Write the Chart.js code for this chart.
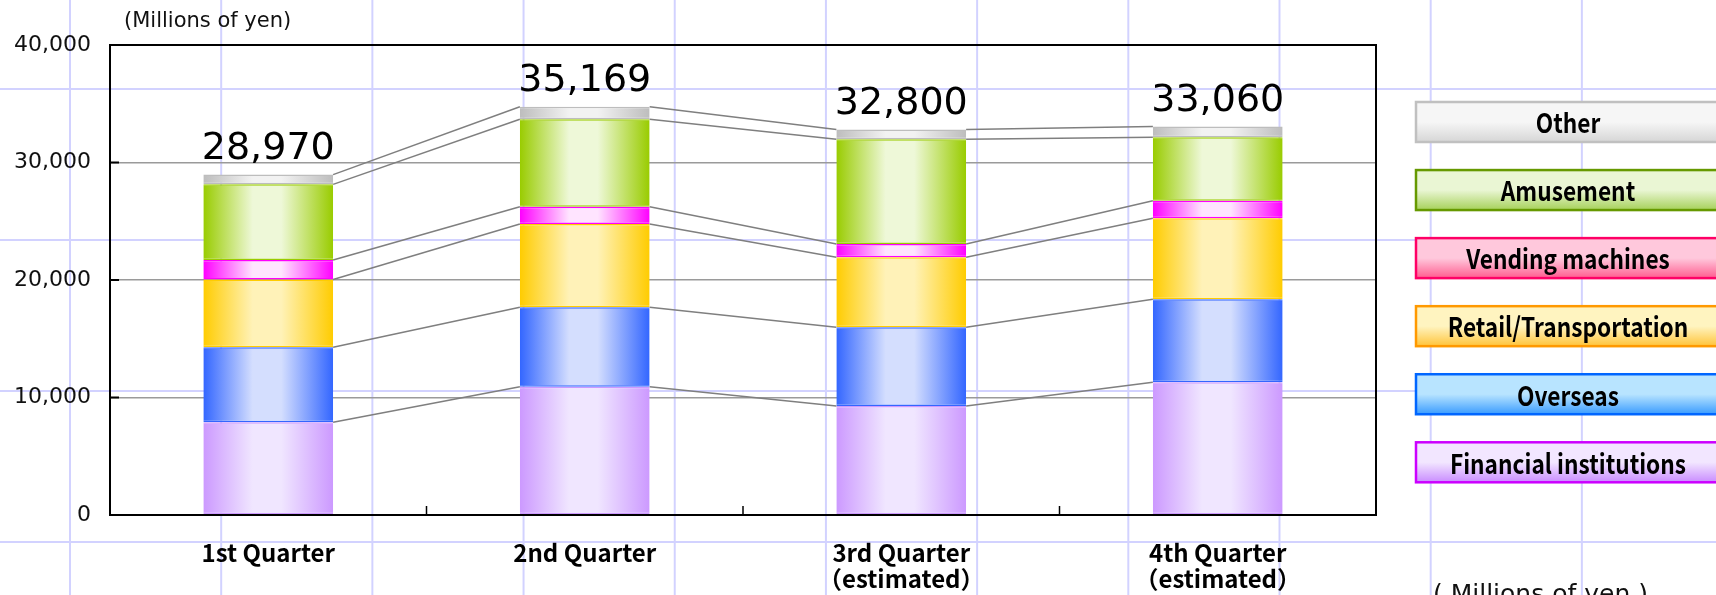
<!DOCTYPE html>
<html>
<head>
<meta charset="utf-8">
<script src="https://cdn.jsdelivr.net/npm/chart.js@4.4.1/dist/chart.umd.min.js"></script>
<style>
html,body{margin:0;padding:0;}
body{
  width:1716px;height:595px;overflow:hidden;background-color:#ffffff;
  background-image:
    linear-gradient(to right, #d2d2ff 0, #d2d2ff 2px, transparent 2px),
    linear-gradient(to bottom, #d2d2ff 0, #d2d2ff 2px, transparent 2px);
  background-size:151.2px 151px;
  background-position:69px 88px;
}
#wrap{position:relative;width:1716px;height:595px;}
canvas{display:block;}
</style>
</head>
<body>
<div id="wrap"><canvas id="c" width="1716" height="595"></canvas></div>
<script>
// ---- data (millions of yen) ----
const categories = [['1st Quarter'], ['2nd Quarter'], ['3rd Quarter', '（estimated）'], ['4th Quarter', '（estimated）']];
const seriesNames = ['Financial institutions', 'Overseas', 'Retail/Transportation', 'Vending machines', 'Amusement', 'Other'];
const financial = [7890, 10920, 9280, 11290];
const overseas  = [6380, 6760, 6690, 7070];
const retail    = [5780, 7090, 5960, 6890];
const vending   = [1650, 1470, 1130, 1500];
const amusement = [6440, 7440, 8910, 5390];
const other     = [830, 1070, 830, 920];
const totals    = [28970, 35169, 32800, 33060];
const yTicks    = [0, 10000, 20000, 30000, 40000];
const unitLabel = '(Millions of yen)';

// ---- styles ----
const BAR_PCT = 0.41;
const barEdge  = ['#cc99ff', '#3366ff', '#ffcc00', '#ff00ff', '#99cc00', '#bdbdbd'];
const barLight = ['#f0e6ff', '#d4defe', '#fff2b8', '#ffe4ff', '#eef8d8', '#f2f2f2'];
const legBorder = ['#cc00ff', '#0066ff', '#ff9900', '#ff0066', '#669900', '#c0c0c0'];
const legTop    = ['#f2e6ff', '#b8e4ff', '#fff4c0', '#ffc8dc', '#eaf6d4', '#f6f6f6'];
const legBottom = ['#c98cff', '#3a9cff', '#ffc43a', '#ff5c8f', '#a6d15a', '#d6d6d6'];

function grad(edge, light) {
  return (c) => {
    const chart = c.chart, ca = chart.chartArea;
    if (!ca || c.type !== 'data' || !chart.scales.x) return edge;
    const cx = chart.scales.x.getPixelForValue(c.dataIndex);
    const w = (ca.right - ca.left) / categories.length * BAR_PCT;
    const g = chart.ctx.createLinearGradient(cx - w / 2, 0, cx + w / 2, 0);
    g.addColorStop(0, edge);
    g.addColorStop(0.38, light);
    g.addColorStop(0.6, light);
    g.addColorStop(1, edge);
    return g;
  };
}

const values = [financial, overseas, retail, vending, amusement, other];
const datasets = values.map((v, i) => ({
  label: seriesNames[i],
  data: v,
  backgroundColor: grad(barEdge[i], barLight[i]),
  borderColor: barEdge[i],
  borderWidth: {top: 1.5, bottom: 1.5, left: 0, right: 0},
  borderSkipped: false,
  categoryPercentage: 1,
  barPercentage: BAR_PCT,
  stack: 's'
}));

const NUM_FONT = '"DejaVu Sans", sans-serif';
const LAB_FONT = '"Noto Sans CJK JP", sans-serif';

const extras = {
  id: 'extras',
  afterDatasetsDraw(chart) {
    const ctx = chart.ctx, ca = chart.chartArea;
    const xs = chart.scales.x, ys = chart.scales.y;
    ctx.save();
    // series lines
    ctx.strokeStyle = '#7f7f7f';
    ctx.lineWidth = 1.5;
    chart.data.datasets.forEach((ds, di) => {
      const meta = chart.getDatasetMeta(di);
      for (let i = 0; i < meta.data.length - 1; i++) {
        const a = meta.data[i], b = meta.data[i + 1];
        ctx.beginPath();
        ctx.moveTo(a.x + a.width / 2, a.y);
        ctx.lineTo(b.x - b.width / 2, b.y);
        ctx.stroke();
      }
    });
    // frame
    ctx.strokeStyle = '#000';
    ctx.lineWidth = 2;
    ctx.strokeRect(ca.left, ca.top, ca.right - ca.left, ca.bottom - ca.top);
    // inner y ticks
    ys.ticks.forEach(t => {
      const py = ys.getPixelForValue(t.value);
      ctx.beginPath(); ctx.moveTo(ca.left, py); ctx.lineTo(ca.left + 9, py); ctx.stroke();
    });
    // inner x ticks at category boundaries
    ctx.lineWidth = 1.5;
    for (let i = 1; i < categories.length; i++) {
      const px = (xs.getPixelForValue(i - 1) + xs.getPixelForValue(i)) / 2;
      ctx.beginPath(); ctx.moveTo(px, ca.bottom); ctx.lineTo(px, ca.bottom - 9); ctx.stroke();
    }
    // totals
    const topMeta = chart.getDatasetMeta(chart.data.datasets.length - 1);
    ctx.fillStyle = '#000';
    ctx.font = '38px ' + NUM_FONT;
    ctx.textAlign = 'center';
    ctx.textBaseline = 'alphabetic';
    topMeta.data.forEach((el, i) => {
      ctx.fillText(totals[i].toLocaleString('en-US'), el.x, el.y - 16);
    });
    ctx.restore();
  },
  afterDraw(chart) {
    const ctx = chart.ctx;
    ctx.save();
    // legend (top = last series)
    const n = seriesNames.length;
    const boxL = 1416, boxW = 306, boxH = 40, top0 = 102, step = 68.06;
    for (let k = 0; k < n; k++) {
      const i = n - 1 - k;
      const y = top0 + k * step;
      const g = ctx.createLinearGradient(0, y, 0, y + boxH);
      g.addColorStop(0, legTop[i]);
      g.addColorStop(0.5, legTop[i]);
      g.addColorStop(1, legBottom[i]);
      ctx.fillStyle = g;
      ctx.fillRect(boxL, y, boxW, boxH);
      ctx.strokeStyle = legBorder[i];
      ctx.lineWidth = 2.5;
      ctx.strokeRect(boxL, y, boxW, boxH);
      ctx.save();
      ctx.translate(boxL + 152, y + boxH / 2 + 1);
      ctx.scale(0.84, 1);
      ctx.fillStyle = '#000';
      ctx.font = 'bold 27px ' + LAB_FONT;
      ctx.textAlign = 'center';
      ctx.textBaseline = 'middle';
      ctx.fillText(seriesNames[i], 0, 0);
      ctx.restore();
    }
    // unit labels
    ctx.fillStyle = '#111';
    ctx.textAlign = 'left';
    ctx.textBaseline = 'middle';
    ctx.font = '21px ' + NUM_FONT;
    ctx.fillText(unitLabel, 124, 22);
    ctx.textBaseline = 'alphabetic';
    ctx.font = '25px ' + NUM_FONT;
    ctx.fillText(unitLabel.replace('(', '( ').replace(')', ' )'), 1433, 602);
    ctx.restore();
  }
};

new Chart(document.getElementById('c'), {
  type: 'bar',
  data: {labels: categories, datasets},
  options: {
    responsive: false,
    animation: false,
    devicePixelRatio: 1,
    layout: {padding: {top: 45, right: 340, bottom: 0, left: 0}},
    plugins: {legend: {display: false}, tooltip: {enabled: false}},
    scales: {
      x: {
        stacked: true,
        grid: {display: false, drawTicks: false},
        border: {display: false},
        ticks: {
          color: '#000',
          padding: 24,
          maxRotation: 0,
          autoSkip: false,
          font: {family: LAB_FONT, size: 24, weight: 'bold', lineHeight: 1.12}
        },
        afterFit: s => { s.height = 80; }
      },
      y: {
        stacked: true,
        min: 0,
        max: 40000,
        afterBuildTicks: s => { s.ticks = yTicks.map(v => ({value: v})); },
        grid: {color: '#9a9a9a', lineWidth: 1.5, drawTicks: false},
        border: {display: false},
        ticks: {
          color: '#111',
          padding: 19,
          font: {family: NUM_FONT, size: 22},
          callback: v => Number(v).toLocaleString('en-US')
        },
        afterFit: s => { s.width = 110; }
      }
    }
  },
  plugins: [extras]
});
</script>
</body>
</html>
